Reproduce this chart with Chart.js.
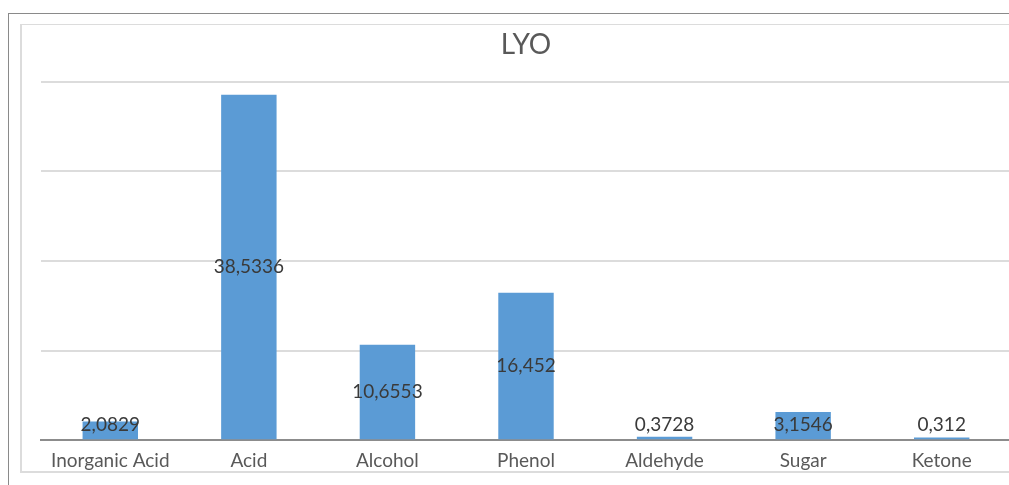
<!DOCTYPE html>
<html>
<head>
<meta charset="utf-8">
<script src="https://cdn.jsdelivr.net/npm/chart.js@4"></script>
<style>
	html, body { margin: 0; padding: 0; background: #fff; overflow: hidden; }
	body { width: 1009px; height: 485px; position: relative; }
	#outer { position: absolute; left: 8px; top: 13px; width: 1100px; height: 500px; border-left: 1px solid #8a8a8a; border-top: 1px solid #8a8a8a; }
	#inner { position: absolute; left: 20px; top: 24px; width: 1100px; height: 446px; border-left: 2px solid #dcdcdc; border-top: 1px solid #dcdcdc; border-bottom: 2px solid #dcdcdc; }
	#wrap { position: absolute; left: 20px; top: 24px; width: 991px; height: 449px; }
</style>
</head>
<body>
<div id="outer"></div>
<div id="inner"></div>
<div id="wrap"><canvas id="chart"></canvas></div>
<script>
const categories = ['Inorganic Acid', 'Acid', 'Alcohol', 'Phenol', 'Aldehyde', 'Sugar', 'Ketone'];
const values = [2.0829, 38.5336, 10.6553, 16.452, 0.3728, 3.1546, 0.312];
const valueLabels = ['2,0829', '38,5336', '10,6553', '16,452', '0,3728', '3,1546', '0,312'];

// labels in the middle of each bar, kept above the axis for short bars
const barLabels = {
	id: 'barLabels',
	afterDatasetsDraw(chart) {
		const ctx = chart.ctx;
		const meta = chart.getDatasetMeta(0);
		const bottom = chart.chartArea.bottom;
		ctx.save();
		ctx.font = '19px Lato';
		ctx.fillStyle = '#3a3a3a';
		ctx.textAlign = 'center';
		ctx.textBaseline = 'middle';
		meta.data.forEach((bar, i) => {
			let y = (bar.y + bar.base) / 2;
			if(y > bottom - 15) y = bottom - 15;
			ctx.fillText(valueLabels[i], bar.x, y);
		});
		ctx.restore();
	}
};

new Chart(document.getElementById('chart'), {
	type: 'bar',
	data: {
		labels: categories,
		datasets: [{
			data: values,
			backgroundColor: '#5b9bd5',
			barPercentage: 0.4,
			categoryPercentage: 1
		}]
	},
	options: {
		responsive: true,
		maintainAspectRatio: false,
		animation: false,
		layout: { padding: { left: 21, right: 0, top: 0, bottom: 0 } },
		plugins: {
			legend: { display: false },
			tooltip: { enabled: false },
			title: {
				display: true,
				text: 'LYO',
				color: '#595959',
				font: { family: 'Lato', size: 28, weight: 'normal' },
				padding: { top: 4, bottom: 20 }
			}
		},
		scales: {
			x: {
				grid: { display: false },
				border: { color: '#8c8c8c', width: 2 },
				ticks: { color: '#595959', font: { family: 'Lato', size: 19 }, padding: 1, maxRotation: 0 }
			},
			y: {
				min: 0,
				max: 40,
				ticks: { display: false, stepSize: 10 },
				grid: { color: '#dcdcdc', lineWidth: 2, drawTicks: false },
				border: { display: false }
			}
		}
	},
	plugins: [barLabels]
});
</script>
</body>
</html>
